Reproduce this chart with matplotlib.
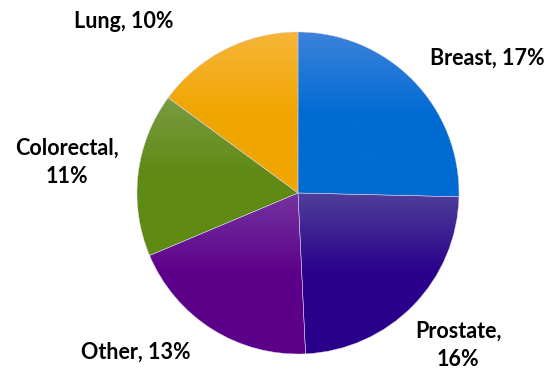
import matplotlib.pyplot as plt
import numpy as np
from matplotlib.colors import LinearSegmentedColormap

plt.rcParams['font.family'] = ['Lato', 'DejaVu Sans']

labels = ['Breast, 17%', 'Prostate,\n16%', 'Other, 13%', 'Colorectal,\n11%', 'Lung, 10%']
values = [17, 16, 13, 11, 10]
# top colour -> main colour (slight vertical gradient, like the original)
top_colors = ['#3d82da', '#4e3f9a', '#74349f', '#7a9b42', '#f6b53a']
main_colors = ['#006bd3', '#2a008b', '#5d0089', '#5f8a13', '#f0a600']

fig = plt.figure(figsize=(5.5, 3.73), dpi=100)
ax = fig.add_axes([0, 0, 1, 1])
ax.set_aspect('equal')
ax.axis('off')

wedges, _ = ax.pie(values, startangle=90, counterclock=False,
                   wedgeprops=dict(linewidth=0.3, edgecolor='#d8d0e8'))

for w, c1, c2 in zip(wedges, top_colors, main_colors):
    ext = w.get_path().get_extents(w.get_patch_transform())
    cmap = LinearSegmentedColormap.from_list('g', [c1, c2, c2])
    grad = np.linspace(0, 1, 256).reshape(-1, 1)
    im = ax.imshow(grad, cmap=cmap, aspect='auto', origin='upper',
                   extent=[ext.x0, ext.x1, ext.y0, ext.y1], zorder=w.get_zorder())
    im.set_clip_path(w)
    w.set_facecolor('none')
    w.set_zorder(w.get_zorder() + 1)

ax.set_xlim(-298 / 161, 252 / 161)
ax.set_ylim(-180 / 161, 193 / 161)

# label positions (data units, pie radius = 1)
pos = [(1.175, 0.84), (0.995, -0.945), (-1.01, -0.99), (-1.435, 0.19), (-1.08, 1.065)]
for (x, y), t in zip(pos, labels):
    ax.text(x, y, t, ha='center', va='center', fontsize=15.5, fontweight='bold',
            color='black', linespacing=1.4)

fig.savefig('out.png', dpi=100)
